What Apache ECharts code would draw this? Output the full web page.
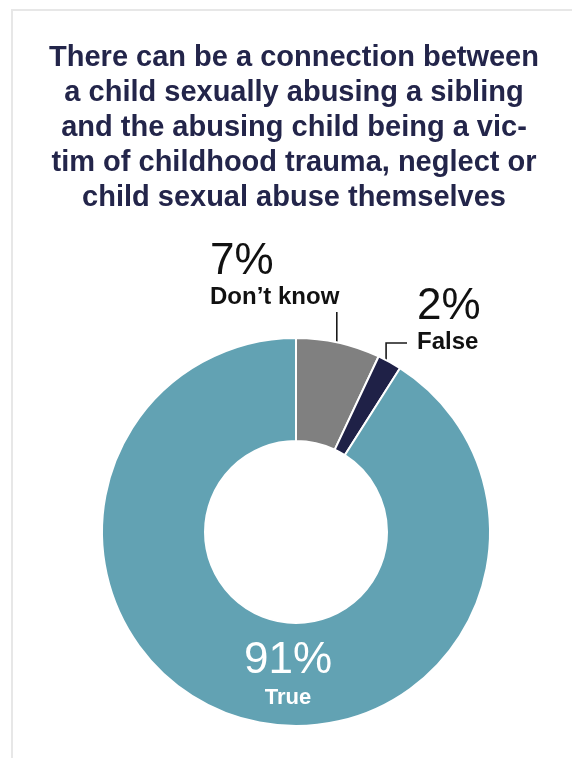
<!DOCTYPE html>
<html>
<head>
<meta charset="utf-8">
<script src="https://cdn.jsdelivr.net/npm/echarts@6/dist/echarts.min.js"></script>
<style>
  html, body { margin: 0; padding: 0; background: #fff; }
  #frame {
    position: absolute; left: 11px; top: 9px; right: 0; bottom: 0;
    border-top: 2px solid #e7e7e7; border-left: 2px solid #e7e7e7;
  }
  #chart { position: absolute; left: 0; top: 0; width: 572px; height: 758px; }
</style>
</head>
<body>
<div id="frame"></div>
<div id="chart"></div>
<script>
// Survey answers, percent of respondents
const categories = ['Don\u2019t know', 'False', 'True'];
const values = [7, 2, 91];
const colors = ['#808080', '#1f2147', '#62a2b3'];

const titleText = 'There can be a connection between\na child sexually abusing a sibling\nand the abusing child being a vic-\ntim of childhood trauma, neglect or\nchild sexual abuse themselves';

// ring geometry (pixels)
const CX = 296, CY = 532, R_IN = 91, R_OUT = 194;
const LEADER_R = 187;
const FONT = 'Liberation Sans, Arial, sans-serif';

// angle (degrees clockwise from 12 o'clock) at the middle of each slice
const total = values.reduce((a, b) => a + b, 0);
const midAngles = [];
let acc = 0;
values.forEach(v => { midAngles.push((acc + v / 2) / total * 360); acc += v; });

function polar(angleDeg, r) {
  const a = angleDeg * Math.PI / 180;
  return [CX + r * Math.sin(a), CY - r * Math.cos(a)];
}

// where each label block sits: [x, y, align]
const labelAnchors = [
  [210, 242, 'left'],
  [417, 287, 'left'],
  [288, 641, 'center']
];

function richFor(color, nameSize, nameLine) {
  return {
    p: { fontFamily: FONT, fontSize: 44, lineHeight: 40, color: color },
    n: { fontFamily: FONT, fontSize: nameSize, fontWeight: 'bold', lineHeight: nameLine, color: color }
  };
}

const chart = echarts.init(document.getElementById('chart'));
chart.setOption({
  animation: false,
  title: {
    text: titleText,
    left: 294,
    top: 40,
    padding: 0,
    textAlign: 'center',
    textStyle: {
      fontFamily: FONT,
      fontSize: 29,
      fontWeight: 'bold',
      color: '#23254a',
      lineHeight: 35
    }
  },
  series: [{
    type: 'pie',
    center: [CX, CY],
    radius: [R_IN, R_OUT],
    startAngle: 90,
    clockwise: true,
    avoidLabelOverlap: false,
    itemStyle: { borderColor: '#ffffff', borderWidth: 2 },
    label: {
      show: true,
      position: 'outside',
      formatter: '{p|{c}%}\n{n|{b}}',
      rich: richFor('#111111', 24, 30)
    },
    labelLine: { show: true, lineStyle: { color: '#1a1a1a', width: 1.6 } },
    labelLayout: function (params) {
      const i = params.dataIndex;
      const a = labelAnchors[i];
      const out = { x: a[0], y: a[1], align: a[2], verticalAlign: 'top' };
      const start = polar(midAngles[i], LEADER_R);
      if (i === 0) {
        out.labelLinePoints = [start, [start[0], (start[1] + 312) / 2], [start[0], 312]];
      } else if (i === 1) {
        out.labelLinePoints = [start, [start[0], 343], [407, 343]];
      }
      return out;
    },
    data: categories.map((name, i) => {
      const item = { name: name, value: values[i], itemStyle: { color: colors[i] } };
      if (i === 2) {
        item.label = { rich: richFor('#ffffff', 22, 34) };
        item.labelLine = { show: false };
      }
      return item;
    })
  }]
});
</script>
</body>
</html>
